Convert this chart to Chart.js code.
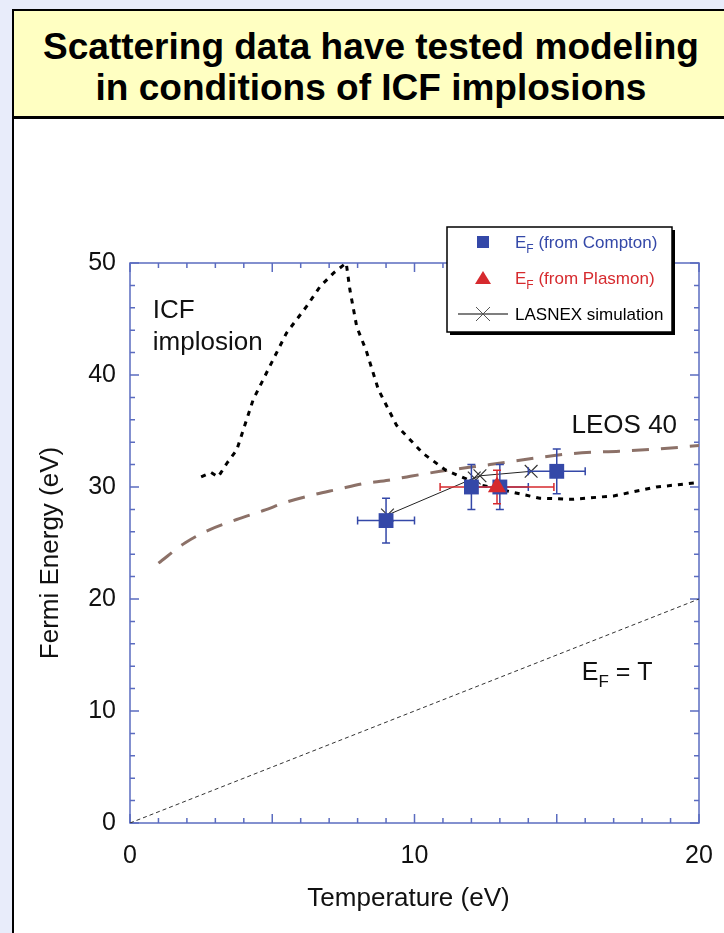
<!DOCTYPE html>
<html><head><meta charset="utf-8">
<script src="https://cdn.jsdelivr.net/npm/chart.js@4.4.0/dist/chart.umd.min.js"></script>
<style>
html,body{margin:0;padding:0;width:724px;height:933px;overflow:hidden;background:#E8ECFA;font-family:"Liberation Sans",Arial,sans-serif;}
#titlebox{position:absolute;left:12px;top:9px;width:730px;height:109px;background:#FFFFC2;border:2px solid #000;box-sizing:border-box;}
#titlebox h1{margin:0;padding-top:15px;font-size:37px;font-weight:bold;line-height:41px;text-align:center;color:#000;width:714px;font-family:"Liberation Sans",Arial,sans-serif;}
#panel{position:absolute;left:12px;top:117px;width:730px;height:830px;background:#fff;border-left:2px solid #000;border-top:2px solid #000;box-sizing:border-box}
#c{position:absolute;left:0;top:0;width:724px;height:933px}
</style></head>
<body>
<div id="titlebox"><h1>Scattering data have tested modeling<br>in conditions of ICF implosions</h1></div>
<div id="panel"></div>
<canvas id="c" width="724" height="933"></canvas>
<script>
// ---------- data ----------
const eftT = [0, 20];
const eftE = [0, 20];

const leosT = [1.0, 1.93, 2.81, 3.75, 4.69, 5.56, 6.44, 7.32, 8.2, 9.08, 9.73, 10.9, 12.65, 14.0, 15.6, 17.2, 18.6, 20.0];
const leosE = [23.2, 25.0, 26.2, 27.1, 27.9, 28.7, 29.3, 29.8, 30.3, 30.6, 30.9, 31.4, 32.0, 32.5, 33.0, 33.2, 33.4, 33.7];

const icfT = [2.5, 2.85, 3.1, 3.4, 3.75, 4.33, 4.8, 5.5, 6.2, 6.68, 7.15, 7.6, 7.73, 7.97, 8.3, 8.73, 9.37, 10.3, 11.1, 12.3, 13.5, 14.4, 15.6, 16.5, 17.0, 18.5, 20.0];
const icfE = [30.9, 31.3, 30.9, 32.1, 33.3, 37.8, 40.2, 43.75, 46.1, 47.9, 49.1, 50.0, 47.6, 44.3, 42.2, 38.7, 35.5, 33.0, 31.5, 30.2, 29.5, 29.0, 28.9, 29.1, 29.2, 30.0, 30.4];

const lasnexT = [9.05, 12.1, 12.3, 14.1];
const lasnexE = [27.5, 30.8, 31.0, 31.4];

const comptonT = [9, 12, 13, 15];
const comptonE = [27, 30, 30, 31.4];
const comptonXErr = [1, 0, 1, 1];
const comptonYErr = [2, 2, 2, 2];

const plasmonT = [12.9];
const plasmonE = [30];
const plasmonXErr = [2];
const plasmonYErr = [1.5];

const xTickStep = 10, yTickStep = 10;
const xMinorStep = 1, yMinorStep = 2;

const legendLabels = [
  {main: 'E', sub: 'F', rest: ' (from Compton)'},
  {main: 'E', sub: 'F', rest: ' (from Plasmon)'},
  {main: '', sub: '', rest: 'LASNEX simulation'}
];
const annotations = [
  {text: 'ICF', t: 0.8, e: 45.06},
  {text: 'implosion', t: 0.8, e: 42.2},
  {text: 'LEOS 40', t: 15.52, e: 34.85}
];
const eftLabel = {main: 'E', sub: 'F', rest: ' = T', t: 15.88, e: 12.77};
const xTitle = 'Temperature (eV)';
const yTitle = 'Fermi Energy (eV)';

// ---------- styles ----------
const FONT = '"Liberation Sans", Arial, sans-serif';
const AXIS = '#5B6CC0';
const BLUE = '#3448A8';
const RED = '#D62A2E';
const BROWN = '#8C7168';

const pts = (xs, ys) => xs.map((v, i) => ({x: v, y: ys[i]}));

const frame = {
  id: 'frame',
  beforeDatasetsDraw(c) {
    const {ctx, chartArea: a, scales: {x, y}} = c;
    ctx.save();
    ctx.strokeStyle = AXIS;
    ctx.lineWidth = 1.5;
    ctx.strokeRect(a.left, a.top, a.right - a.left, a.bottom - a.top);
    ctx.beginPath();
    for (let v = x.min; v <= x.max + 1e-9; v += xMinorStep) {
      const px = x.getPixelForValue(v);
      const L = (Math.round(v) % 5 === 0) ? 9 : 5;
      ctx.moveTo(px, a.bottom); ctx.lineTo(px, a.bottom - L);
      ctx.moveTo(px, a.top); ctx.lineTo(px, a.top + L);
    }
    for (let v = y.min; v <= y.max + 1e-9; v += yMinorStep) {
      const py = y.getPixelForValue(v);
      const L = (Math.round(v) % 10 === 0) ? 9 : 5;
      ctx.moveTo(a.left, py); ctx.lineTo(a.left + L, py);
      ctx.moveTo(a.right, py); ctx.lineTo(a.right - L, py);
    }
    ctx.stroke();
    ctx.restore();
  },
  beforeDatasetDraw(c, args) {
    if (c.data.datasets[args.index].label !== 'compton') return;
    const {ctx, scales: {x, y}} = c;
    const cap = 4;
    const bars = (T, E, XE, YE, col) => {
      ctx.strokeStyle = col; ctx.lineWidth = 1.5;
      ctx.beginPath();
      T.forEach((t, i) => {
        const px = x.getPixelForValue(t), py = y.getPixelForValue(E[i]);
        if (XE[i]) {
          const l = x.getPixelForValue(t - XE[i]), r = x.getPixelForValue(t + XE[i]);
          ctx.moveTo(l, py); ctx.lineTo(r, py);
          ctx.moveTo(l, py - cap); ctx.lineTo(l, py + cap);
          ctx.moveTo(r, py - cap); ctx.lineTo(r, py + cap);
        }
        if (YE[i]) {
          const tp = y.getPixelForValue(E[i] + YE[i]), bt = y.getPixelForValue(E[i] - YE[i]);
          ctx.moveTo(px, tp); ctx.lineTo(px, bt);
          ctx.moveTo(px - cap, tp); ctx.lineTo(px + cap, tp);
          ctx.moveTo(px - cap, bt); ctx.lineTo(px + cap, bt);
        }
      });
      ctx.stroke();
    };
    ctx.save();
    bars(comptonT, comptonE, comptonXErr, comptonYErr, BLUE);
    bars(plasmonT, plasmonE, plasmonXErr, plasmonYErr, RED);
    ctx.restore();
  }
};

function subText(ctx, x, yb, item, size, color) {
  ctx.fillStyle = color;
  ctx.textAlign = 'left';
  ctx.textBaseline = 'alphabetic';
  ctx.font = size + 'px ' + FONT;
  let cx = x;
  if (item.main) { ctx.fillText(item.main, cx, yb); cx += ctx.measureText(item.main).width; }
  if (item.sub) {
    ctx.font = Math.round(size * 0.68) + 'px ' + FONT;
    ctx.fillText(item.sub, cx, yb + size * 0.3);
    cx += ctx.measureText(item.sub).width;
    ctx.font = size + 'px ' + FONT;
  }
  ctx.fillText(item.rest, cx, yb);
}

const texts = {
  id: 'texts',
  afterDraw(c) {
    const {ctx, chartArea: a, scales: {x, y}} = c;
    ctx.save();
    ctx.fillStyle = '#111';
    ctx.font = '26px ' + FONT;
    ctx.textAlign = 'left';
    ctx.textBaseline = 'alphabetic';
    annotations.forEach(an => ctx.fillText(an.text, x.getPixelForValue(an.t), y.getPixelForValue(an.e)));
    subText(ctx, x.getPixelForValue(eftLabel.t), y.getPixelForValue(eftLabel.e), eftLabel, 25, '#111');

    // axis titles
    ctx.fillStyle = '#111';
    ctx.font = '26px ' + FONT;
    ctx.textAlign = 'center';
    ctx.fillText(xTitle, (a.left + a.right) / 2 - 6, a.bottom + 83);
    ctx.save();
    ctx.translate(58, (a.top + a.bottom) / 2 + 10);
    ctx.rotate(-Math.PI / 2);
    ctx.fillText(yTitle, 0, 0);
    ctx.restore();

    // legend
    const L = a.right - 252, T = a.top - 36, W = 225, H = 105;
    ctx.fillStyle = '#000';
    ctx.fillRect(L + 3, T + 3, W, H);
    ctx.fillStyle = '#fff';
    ctx.fillRect(L, T, W, H);
    ctx.strokeStyle = '#000'; ctx.lineWidth = 1.5;
    ctx.strokeRect(L, T, W, H);
    const mx = L + 36, tx = L + 68;
    const rows = [T + 15, T + 51, T + 87];
    ctx.fillStyle = BLUE;
    ctx.fillRect(mx - 6, rows[0] - 6, 12, 12);
    ctx.fillStyle = RED;
    ctx.beginPath();
    ctx.moveTo(mx, rows[1] - 7); ctx.lineTo(mx + 8, rows[1] + 6); ctx.lineTo(mx - 8, rows[1] + 6); ctx.closePath(); ctx.fill();
    ctx.strokeStyle = '#000'; ctx.lineWidth = 1.2;
    ctx.beginPath(); ctx.moveTo(L + 11, rows[2]); ctx.lineTo(L + 61, rows[2]); ctx.stroke();
    ctx.strokeStyle = '#555'; ctx.lineWidth = 1;
    ctx.beginPath();
    ctx.moveTo(mx - 7, rows[2] - 7); ctx.lineTo(mx + 7, rows[2] + 7);
    ctx.moveTo(mx + 7, rows[2] - 7); ctx.lineTo(mx - 7, rows[2] + 7);
    ctx.stroke();
    subText(ctx, tx, rows[0] + 6, legendLabels[0], 17, BLUE);
    subText(ctx, tx, rows[1] + 6, legendLabels[1], 17, RED);
    subText(ctx, tx, rows[2] + 6, legendLabels[2], 17, '#000');
    ctx.restore();
  }
};

new Chart(document.getElementById('c'), {
  type: 'scatter',
  data: {
    datasets: [
      {label: 'eft', data: pts(eftT, eftE), showLine: true, borderColor: '#333', borderWidth: 1, borderDash: [4, 3], pointRadius: 0, order: 6},
      {label: 'leos', data: pts(leosT, leosE), showLine: true, borderColor: BROWN, borderWidth: 3, borderDash: [17, 12], pointRadius: 0, tension: 0.4, cubicInterpolationMode: 'monotone', order: 5},
      {label: 'icf', data: pts(icfT, icfE), showLine: true, borderColor: '#000', borderWidth: 3, borderDash: [5, 6], pointRadius: 0, tension: 0, order: 4},
      {label: 'lasnex', data: pts(lasnexT, lasnexE), showLine: true, borderColor: '#222', borderWidth: 1, pointStyle: 'crossRot', pointRadius: 9, pointBorderColor: '#333', pointBorderWidth: 1.2, order: 3},
      {label: 'compton', data: pts(comptonT, comptonE), showLine: false, pointStyle: 'rect', pointRadius: 10.5, backgroundColor: BLUE, borderColor: BLUE, pointBorderWidth: 0, order: 1},
      {label: 'plasmon', data: pts(plasmonT, plasmonE), showLine: false, pointStyle: 'triangle', pointRadius: 10.5, backgroundColor: RED, borderColor: RED, pointBorderWidth: 0, order: 0}
    ]
  },
  options: {
    responsive: false,
    animation: false,
    devicePixelRatio: 1,
    layout: {padding: {top: 263, right: 25, left: 0, bottom: 0}},
    plugins: {legend: {display: false}, tooltip: {enabled: false}},
    scales: {
      x: {type: 'linear', min: 0, max: 20,
          ticks: {stepSize: xTickStep, font: {size: 25, family: FONT}, color: '#111', padding: 18},
          grid: {display: false, drawTicks: false}, border: {display: false},
          afterFit(s) { s.height = 110; s.paddingLeft = 0; s.paddingRight = 0; }},
      y: {type: 'linear', min: 0, max: 50,
          ticks: {stepSize: yTickStep, font: {size: 25, family: FONT}, color: '#111', padding: 14},
          grid: {display: false, drawTicks: false}, border: {display: false},
          afterFit(s) { s.width = 130; s.paddingTop = 0; s.paddingBottom = 0; }}
    }
  },
  plugins: [frame, texts]
});
</script>
</body></html>
